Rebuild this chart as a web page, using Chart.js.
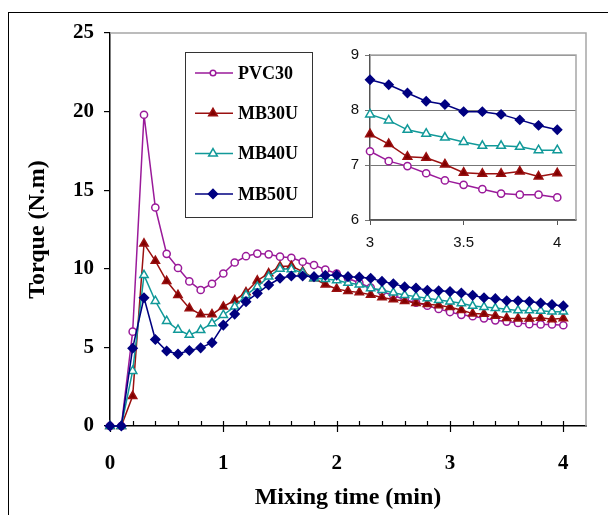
<!DOCTYPE html>
<html>
<head>
<meta charset="utf-8">
<script src="https://cdn.jsdelivr.net/npm/chart.js@4.4.1/dist/chart.umd.min.js"></script>
<style>
  html, body { margin: 0; padding: 0; background: #fff; overflow: hidden; }
  #marco { position: absolute; left: 8px; top: 12px; width: 640px; height: 560px; border-left: 1px solid #000; border-top: 1px solid #000; }
  #principal { position: absolute; left: 0; top: 0; }
  #inserto { position: absolute; left: 330px; top: 40px; }
</style>
</head>
<body>
<div id="marco"></div>
<canvas id="principal" width="608" height="515"></canvas>
<canvas id="inserto" width="260" height="225"></canvas>
<script>
// Datos (tiempo en min, torque en N.m)
const tiempos = [0, 0.1, 0.2, 0.3, 0.4, 0.5, 0.6, 0.7, 0.8, 0.9, 1.0, 1.1, 1.2, 1.3, 1.4, 1.5, 1.6, 1.7, 1.8, 1.9,
  2.0, 2.1, 2.2, 2.3, 2.4, 2.5, 2.6, 2.7, 2.8, 2.9, 3.0, 3.1, 3.2, 3.3, 3.4, 3.5, 3.6, 3.7, 3.8, 3.9, 4.0];
const pvc30 = [0, 0, 6.0, 19.8, 13.9, 10.95, 10.05, 9.2, 8.65, 9.05, 9.7, 10.4, 10.8, 10.97, 10.92, 10.77, 10.7, 10.45, 10.24, 9.95,
  9.7, 9.4, 9.1, 8.8, 8.55, 8.3, 8.05, 7.85, 7.65, 7.45, 7.25, 7.07, 6.98, 6.85, 6.72, 6.64, 6.56, 6.48, 6.46, 6.46, 6.41];
const mb30u = [0, 0, 1.9, 11.6, 10.5, 9.22, 8.33, 7.49, 7.1, 7.1, 7.59, 8.0, 8.5, 9.25, 9.71, 10.15, 10.18, 9.82, 9.4, 9.0,
  8.72, 8.58, 8.5, 8.35, 8.18, 8.05, 7.95, 7.82, 7.75, 7.68, 7.56, 7.38, 7.15, 7.13, 7.01, 6.86, 6.84, 6.84, 6.88, 6.79, 6.85];
const mb40u = [0, 0, 3.5, 9.6, 7.95, 6.68, 6.12, 5.8, 6.1, 6.53, 7.06, 7.59, 8.33, 8.86, 9.5, 10.0, 9.97, 9.75, 9.4, 9.35,
  9.27, 9.1, 9.0, 8.76, 8.65, 8.48, 8.33, 8.23, 8.12, 8.01, 7.92, 7.81, 7.64, 7.57, 7.5, 7.42, 7.35, 7.35, 7.33, 7.27, 7.27];
const mb50u = [0, 0, 4.95, 8.16, 5.5, 4.77, 4.58, 4.8, 4.97, 5.3, 6.42, 7.12, 7.91, 8.44, 8.97, 9.4, 9.54, 9.54, 9.5, 9.58,
  9.6, 9.5, 9.47, 9.4, 9.2, 9.05, 8.85, 8.78, 8.63, 8.6, 8.55, 8.46, 8.31, 8.16, 8.1, 7.97, 7.97, 7.92, 7.82, 7.72, 7.64];
const nombresSeries = ['PVC30', 'MB30U', 'MB40U', 'MB50U'];
const valoresSeries = [pvc30, mb30u, mb40u, mb50u];
const ticksX = [0, 1, 2, 3, 4];
const ticksXInserto = [3, 3.5, 4];

// Estilos de cada serie
const estilos = [
  { linea: '#9a1a9a', relleno: '#ffffff', forma: 'circle', radio: 3.6, radioInserto: 3.6, radioLeyenda: 2.8 },
  { linea: '#9a1010', relleno: '#800000', forma: 'triangle', radio: 4.8, radioInserto: 5, radioLeyenda: 5 },
  { linea: '#119999', relleno: '#ffffff', forma: 'triangle', radio: 4.8, radioInserto: 5, radioLeyenda: 5 },
  { linea: '#000080', relleno: '#000080', forma: 'rectRot', radio: 4.5, radioInserto: 4.4, radioLeyenda: 4.5 }
];

const fuenteSerif = 'Liberation Serif, Times New Roman, serif';
const fuenteSans = 'Liberation Sans, Arial, sans-serif';

const puntos = (valores) => tiempos.map((t, i) => ({ x: t, y: valores[i] }));

const crearDatasets = (enInserto) => valoresSeries.map((valores, i) => {
  const e = estilos[i];
  const datos = enInserto ? puntos(valores).filter(p => p.x >= 3) : puntos(valores);
  return {
    label: nombresSeries[i],
    data: datos,
    borderColor: e.linea,
    borderWidth: 1.5,
    backgroundColor: e.relleno,
    pointStyle: e.forma,
    pointRadius: enInserto ? e.radioInserto : e.radio,
    pointBorderColor: e.linea,
    pointBackgroundColor: e.relleno,
    pointBorderWidth: 1.5,
    tension: 0,
    clip: false,
    order: 4 - i,
    radioLeyenda: e.radioLeyenda
  };
});

// Marco gris y marcas del eje x del gráfico principal
const marcoPrincipal = {
  id: 'marcoPrincipal',
  beforeDatasetsDraw(chart) {
    const { ctx, chartArea: a, scales: { x } } = chart;
    ctx.save();
    ctx.strokeStyle = '#a6a6a6';
    ctx.lineWidth = 1.5;
    ctx.beginPath();
    ctx.moveTo(a.left, a.top);
    ctx.lineTo(a.right, a.top);
    ctx.lineTo(a.right, a.bottom);
    ctx.stroke();
    ctx.strokeStyle = '#000';
    ctx.lineWidth = 1.2;
    for (let i = 0; i <= 20; i++) {
      const px = Math.round(x.getPixelForValue(i * 0.2)) + 0.5;
      const mayor = i % 5 === 0;
      ctx.beginPath();
      ctx.moveTo(px, a.bottom - 5);
      ctx.lineTo(px, mayor ? a.bottom + 6 : a.bottom);
      ctx.stroke();
    }
    ctx.restore();
  }
};

// Leyenda en recuadro
const leyendaCaja = {
  id: 'leyendaCaja',
  afterDatasetsDraw(chart) {
    const { ctx } = chart;
    ctx.save();
    ctx.fillStyle = '#fff';
    ctx.fillRect(185.5, 52.5, 127, 165);
    ctx.strokeStyle = '#333';
    ctx.lineWidth = 1;
    ctx.strokeRect(185.5, 52.5, 127, 165);
    chart.data.datasets.forEach((ds, i) => {
      const y = 73 + i * 40.3;
      ctx.strokeStyle = ds.borderColor;
      ctx.lineWidth = 1.5;
      ctx.beginPath();
      ctx.moveTo(195, y);
      ctx.lineTo(233, y);
      ctx.stroke();
      ctx.fillStyle = ds.pointBackgroundColor;
      ctx.strokeStyle = ds.pointBorderColor;
      Chart.helpers.drawPoint(ctx, { pointStyle: ds.pointStyle, radius: ds.radioLeyenda, borderWidth: 1.5, rotation: 0 }, 213, y);
      ctx.fillStyle = '#000';
      ctx.font = 'bold 18px ' + fuenteSerif;
      ctx.textBaseline = 'middle';
      ctx.textAlign = 'left';
      ctx.fillText(ds.label, 238, y + 1);
    });
    ctx.restore();
  }
};

new Chart(document.getElementById('principal'), {
  type: 'line',
  data: { datasets: crearDatasets(false) },
  options: {
    responsive: false,
    devicePixelRatio: 1,
    animation: false,
    events: [],
    layout: { padding: { left: 0, top: 33, right: 22, bottom: 0 } },
    plugins: { legend: { display: false }, tooltip: { enabled: false } },
    scales: {
      x: {
        type: 'linear',
        min: 0,
        max: 4.2,
        afterBuildTicks: (scale) => { scale.ticks = ticksX.map(v => ({ value: v })); },
        afterFit: (scale) => { scale.height = 89; },
        grid: { display: false, drawTicks: false },
        border: { display: true, color: '#000', width: 1.5 },
        ticks: { color: '#000', font: { family: fuenteSerif, size: 21, weight: 'bold' }, padding: 25, maxRotation: 0 },
        title: { display: true, text: 'Mixing time (min)', color: '#000', font: { family: fuenteSerif, size: 24, weight: 'bold' }, padding: { top: 0, bottom: 3 } }
      },
      y: {
        min: 0,
        max: 25,
        ticks: { stepSize: 5, color: '#000', font: { family: fuenteSerif, size: 21, weight: 'bold' }, padding: 10 },
        afterFit: (scale) => { scale.width = 110; },
        grid: { display: true, drawOnChartArea: false, drawTicks: true, tickLength: 6, color: '#000', lineWidth: 1.2 },
        border: { display: true, color: '#000', width: 1.5 },
        title: { display: true, text: 'Torque (N.m)', color: '#000', font: { family: fuenteSerif, size: 24, weight: 'bold' }, padding: { top: 23, bottom: 0 } }
      }
    }
  },
  plugins: [marcoPrincipal, leyendaCaja]
});

// Marco del gráfico insertado
const marcoInserto = {
  id: 'marcoInserto',
  beforeDatasetsDraw(chart) {
    const { ctx, chartArea: a } = chart;
    ctx.save();
    ctx.strokeStyle = '#a6a6a6';
    ctx.lineWidth = 1.5;
    ctx.beginPath();
    ctx.moveTo(a.left, a.top);
    ctx.lineTo(a.right, a.top);
    ctx.lineTo(a.right, a.bottom);
    ctx.stroke();
    ctx.restore();
  }
};

new Chart(document.getElementById('inserto'), {
  type: 'line',
  data: { datasets: crearDatasets(true) },
  options: {
    responsive: false,
    devicePixelRatio: 1,
    animation: false,
    events: [],
    layout: { padding: { left: 0, top: 12, right: 14, bottom: 0 } },
    plugins: { legend: { display: false }, tooltip: { enabled: false } },
    scales: {
      x: {
        type: 'linear',
        min: 3,
        max: 4.1,
        afterBuildTicks: (scale) => { scale.ticks = ticksXInserto.map(v => ({ value: v })); },
        afterFit: (scale) => { scale.height = 45; },
        grid: { display: true, drawOnChartArea: false, drawTicks: true, tickLength: 5, color: '#555', lineWidth: 1 },
        border: { display: true, color: '#555', width: 1.5 },
        ticks: { color: '#111', font: { family: fuenteSans, size: 15 }, padding: 9, maxRotation: 0, callback: (v) => String(v) }
      },
      y: {
        min: 6,
        max: 9,
        ticks: { stepSize: 1, color: '#111', font: { family: fuenteSans, size: 15 }, padding: 6 },
        afterFit: (scale) => { scale.width = 40; },
        grid: { display: true, drawOnChartArea: true, drawTicks: true, tickLength: 5, color: '#777', lineWidth: 1 },
        border: { display: true, color: '#555', width: 1.5 }
      }
    }
  },
  plugins: [marcoInserto]
});
</script>
</body>
</html>
